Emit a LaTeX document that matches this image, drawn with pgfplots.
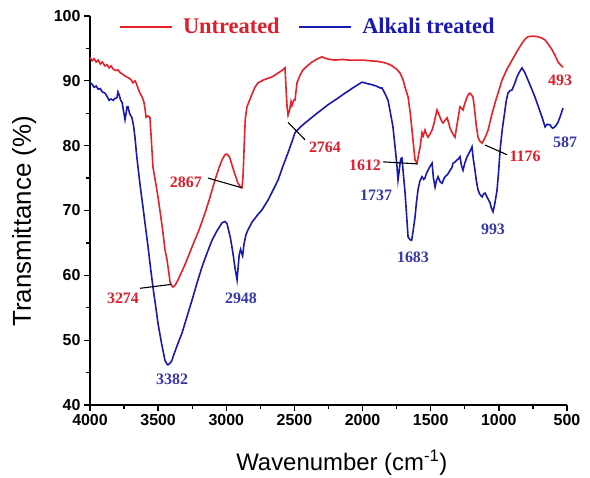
\documentclass[border=0pt]{standalone}
\usepackage{fontspec}
\setmainfont{Liberation Serif}
\setsansfont{Liberation Sans}
\newfontfamily\arial{Liberation Sans}
\usepackage{pgfplots}
\pgfplotsset{compat=1.18}

\definecolor{untr}{RGB}{232,32,40}
\definecolor{alk}{RGB}{24,24,178}
\definecolor{untrlab}{RGB}{220,30,45}
\definecolor{alklab}{RGB}{55,55,172}

\begin{document}
\begin{tikzpicture}
\path[use as bounding box] (-90bp,-73bp) rectangle (500bp,405bp);
\begin{axis}[
  at={(0,0)}, anchor=south west,
  scale only axis, width=477bp, height=389bp,
  xmin=500, xmax=4000, x dir=reverse,
  ymin=40, ymax=100,
  axis x line*=bottom, axis y line*=left,
  axis line style={line width=1.6bp},
  xtick={500,1000,...,4000}, minor x tick num=1,
  ytick={40,50,...,100}, minor y tick num=1,
  tick align=outside, major tick length=6bp, minor tick length=3.5bp,
  every tick/.style={black, line width=1.3bp},
  /pgf/number format/assume math mode=true,
  /pgf/number format/set thousands separator={},
  tick label style={font=\arial\bfseries\fontsize{16}{16}\selectfont},
  xlabel={Wavenumber (cm\textsuperscript{-1})},
  ylabel={Transmittance (\%)},
  every axis x label/.style={at={(axis description cs:0.528,-0.148)}, anchor=center,
    font=\arial\fontsize{24}{24}\selectfont},
  every axis y label/.style={at={(axis description cs:-0.138,0.472)}, anchor=center,
    rotate=90, font=\arial\fontsize{26}{26}\selectfont},
  clip=false,
  legend columns=2,
  legend style={draw=none, fill=none, at={(0.055,0.972)}, anchor=west,
    font=\bfseries\fontsize{22.5}{22.5}\selectfont,
    /tikz/every odd column/.append style={column sep=8bp},
    /tikz/every even column/.append style={column sep=17bp}},
  legend image code/.code={\draw[#1] (0bp,0bp) -- (52bp,0bp);},
]
% Untreated fibre
\addplot[untr, line width=1.6bp] coordinates {
(4000,93.6)(3985,93.1)(3970,93.4)(3955,92.9)(3940,93.2)(3925,92.6)(3910,92.9)(3890,92.3)
(3875,92.5)(3860,92.0)(3845,92.3)(3830,91.8)(3810,91.6)(3795,91.7)(3780,91.3)(3760,91.0)
(3740,90.7)(3720,90.5)(3700,90.2)(3685,89.7)(3670,90.0)(3660,89.6)(3645,88.7)(3633,88.1)
(3615,87.4)(3604,86.7)(3595,85.5)(3589,84.4)(3575,84.6)(3560,84.3)(3550,81.0)(3538,76.7)
(3520,74.5)(3501,72.1)(3480,69.0)(3464,66.5)(3450,64.0)(3435,62.4)(3420,60.2)(3413,59.0)
(3400,58.4)(3391,58.2)(3375,58.5)(3354,59.3)(3300,61.8)(3251,64.4)(3200,67.0)(3156,69.6)
(3120,72.0)(3083,74.7)(3055,76.5)(3031,77.8)(3010,78.6)(2995,78.7)(2975,78.2)(2958,77.0)
(2935,75.5)(2914,74.2)(2895,73.6)(2885,73.5)(2878,75.0)(2872,78.0)(2866,81.5)(2860,84.2)
(2848,86.0)(2820,87.5)(2790,89.0)(2767,89.7)(2720,90.2)(2664,90.6)(2620,91.2)(2584,91.7)
(2569,92.0)(2562,89.0)(2554,86.0)(2547,84.7)(2535,85.5)(2525,86.8)(2518,86.2)(2505,87.0)
(2496,87.0)(2481,89.7)(2460,90.8)(2437,91.7)(2400,92.4)(2371,92.9)(2330,93.4)(2298,93.7)
(2276,93.5)(2240,93.3)(2202,93.2)(2150,93.3)(2100,93.2)(2055,93.2)(2000,93.2)(1950,93.1)
(1887,93.0)(1840,92.8)(1800,92.5)(1784,92.3)(1750,91.8)(1725,91.2)(1705,90.3)(1688,89.0)
(1666,87.5)(1650,85.0)(1637,82.4)(1625,79.8)(1615,77.8)(1600,77.3)(1590,78.5)(1578,79.8)
(1564,82.0)(1555,81.5)(1542,82.4)(1530,81.7)(1520,81.3)(1505,81.8)(1490,82.4)(1475,83.5)
(1465,84.5)(1454,85.5)(1443,85.0)(1432,84.4)(1420,83.8)(1410,83.5)(1395,83.9)(1380,84.3)
(1368,83.5)(1358,82.7)(1340,81.9)(1322,81.3)(1305,83.5)(1285,86.0)(1275,85.8)(1263,85.5)
(1250,86.5)(1233,87.5)(1220,88.0)(1212,88.1)(1200,87.8)(1190,87.5)(1182,86.3)(1175,85.0)
(1165,83.0)(1153,81.3)(1140,80.7)(1123,80.4)(1100,81.3)(1079,82.4)(1055,84.5)(1028,86.6)
(1000,88.5)(977,90.1)(940,91.8)(903,93.2)(865,94.6)(830,95.8)(805,96.5)(786,96.8)
(750,96.9)(713,96.8)(685,96.6)(661,96.3)(635,95.6)(610,94.8)(590,94.0)(566,92.9)
(545,92.4)(529,92.1)
};
\addlegendentry{\textcolor{untrlab}{Untreated}}
% Alkali treated fibre
\addplot[alk, line width=1.6bp] coordinates {
(4000,89.7)(3985,89.5)(3970,89.0)(3955,89.2)(3940,88.7)(3925,88.8)(3910,88.3)(3890,88.1)
(3875,87.6)(3860,87.0)(3845,87.2)(3830,87.0)(3815,87.3)(3802,87.4)(3795,88.3)(3785,87.8)
(3775,87.0)(3765,86.7)(3755,85.5)(3743,84.0)(3735,85.0)(3728,86.0)(3721,86.0)(3710,85.0)
(3700,84.6)(3692,84.3)(3680,83.0)(3670,81.3)(3660,79.0)(3648,76.7)(3630,73.5)(3611,70.5)
(3590,67.0)(3574,64.4)(3555,61.0)(3538,58.2)(3520,55.5)(3501,52.6)(3475,49.5)(3450,46.9)
(3435,46.3)(3428,46.2)(3415,46.4)(3400,46.8)(3391,47.4)(3360,49.2)(3325,51.1)(3290,53.5)
(3251,56.2)(3215,58.8)(3178,61.3)(3140,63.5)(3105,65.4)(3070,66.8)(3031,68.1)(3010,68.3)
(2995,68.0)(2987,67.3)(2970,65.8)(2951,63.4)(2935,61.0)(2921,59.3)(2912,61.5)(2905,63.2)
(2895,64.0)(2888,63.5)(2880,63.0)(2870,64.8)(2855,66.3)(2841,67.0)(2811,68.2)(2775,69.2)
(2738,70.1)(2694,71.6)(2660,73.0)(2620,74.7)(2585,76.8)(2547,78.9)(2520,80.5)(2496,82.0)
(2460,82.8)(2422,83.5)(2340,84.9)(2254,86.3)(2190,87.2)(2129,88.1)(2065,89.0)(2004,89.8)
(1970,89.6)(1931,89.4)(1900,89.2)(1870,88.9)(1857,88.9)(1835,88.0)(1813,87.0)(1795,85.0)
(1777,82.9)(1760,79.5)(1747,76.7)(1740,74.7)(1732,76.0)(1725,77.3)(1718,78.0)(1711,78.1)
(1700,75.5)(1688,72.7)(1676,69.0)(1666,65.9)(1652,65.5)(1640,65.4)(1628,67.0)(1615,69.0)
(1605,71.2)(1593,73.2)(1580,74.5)(1564,75.2)(1552,74.8)(1542,75.0)(1530,75.8)(1520,76.2)
(1505,76.8)(1490,77.3)(1480,75.0)(1468,73.6)(1458,74.6)(1446,75.2)(1430,74.4)(1417,74.2)
(1405,74.8)(1395,75.2)(1375,75.6)(1358,76.2)(1345,76.6)(1336,77.3)(1320,77.5)(1307,77.8)
(1295,78.0)(1285,78.3)(1275,77.0)(1263,76.2)(1250,77.3)(1233,78.3)(1215,79.0)(1197,79.8)
(1188,78.0)(1175,76.2)(1165,74.6)(1153,73.2)(1140,72.5)(1123,72.1)(1110,72.6)(1101,72.7)
(1085,72.0)(1065,71.2)(1055,70.4)(1043,69.8)(1030,71.0)(1013,73.2)(1000,76.5)(991,79.3)
(975,82.5)(955,85.5)(945,87.0)(933,88.1)(918,88.5)(903,88.6)(885,89.5)(867,90.6)
(848,91.4)(830,92.0)(810,91.3)(786,90.1)(760,88.8)(735,87.5)(710,86.0)(683,84.4)
(670,83.5)(661,82.9)(645,83.3)(624,83.2)(612,82.8)(602,82.7)(585,83.0)(566,83.6)
(548,84.6)(529,85.8)
};
\addlegendentry{\textcolor{alk}{Alkali treated}}

% peak annotations
\begin{scope}[every node/.style={font=\bfseries\fontsize{16}{16}\selectfont, inner sep=0pt}]
  \node[text=untrlab] at (axis cs:3758,56.5) {3274};
  \node[text=untrlab] at (axis cs:3296,74.4) {2867};
  \node[text=untrlab] at (axis cs:2276,79.8) {2764};
  \node[text=untrlab] at (axis cs:1982,77.0) {1612};
  \node[text=untrlab] at (axis cs:808,78.3) {1176};
  \node[text=untrlab] at (axis cs:551,90.1) {493};
  \node[text=alklab] at (axis cs:3398,43.9) {3382};
  \node[text=alklab] at (axis cs:2892,56.5) {2948};
  \node[text=alklab] at (axis cs:1901,72.4) {1737};
  \node[text=alklab] at (axis cs:1630,62.8) {1683};
  \node[text=alklab] at (axis cs:1043,67.1) {993};
  \node[text=alklab] at (axis cs:514,80.6) {587};
\end{scope}
\begin{scope}[black, line width=1.1bp]
  \draw (axis cs:3633,58.0) -- (axis cs:3405,58.6);
  \draw (axis cs:3134,75.0) -- (axis cs:2885,73.5);
  \draw (axis cs:2547,83.6) -- (axis cs:2422,80.9);
  \draw (axis cs:1850,77.5) -- (axis cs:1600,77.2);
  \draw (axis cs:1101,80.1) -- (axis cs:940,78.6);
\end{scope}
\end{axis}
\end{tikzpicture}
\end{document}
